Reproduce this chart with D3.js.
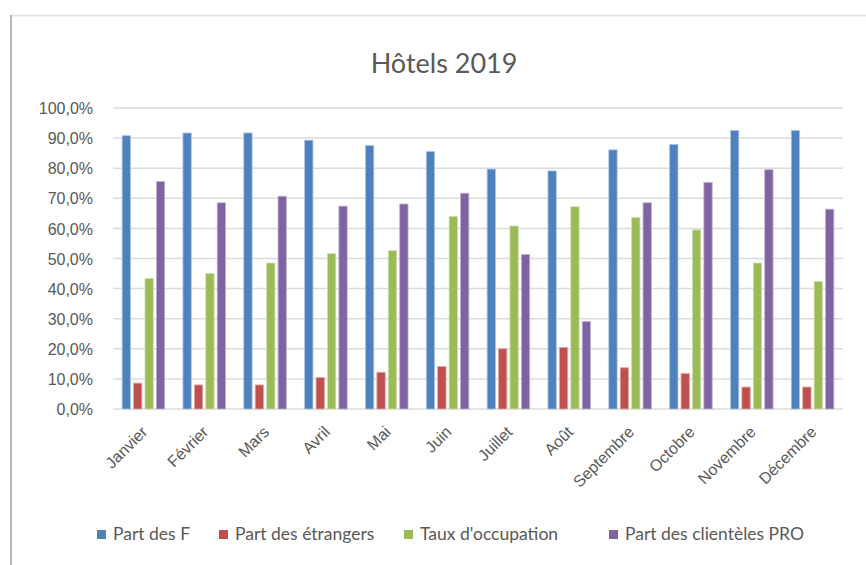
<!DOCTYPE html>
<html>
<head>
<meta charset="utf-8">
<script src="https://cdn.jsdelivr.net/npm/d3@7"></script>
<style>
  body { margin: 0; background: #fff; }
  svg { display: block; font-family: Lato, "Open Sans", sans-serif; }
</style>
</head>
<body>
<svg id="chart" width="866" height="565"></svg>
<script>
var months = ["Janvier", "Février", "Mars", "Avril", "Mai", "Juin", "Juillet", "Août", "Septembre", "Octobre", "Novembre", "Décembre"];
var seriesNames = ["Part des F", "Part des étrangers", "Taux d'occupation", "Part des clientèles PRO"];
var partF = [90.8, 91.7, 91.7, 89.3, 87.5, 85.5, 79.7, 79.1, 86.1, 87.9, 92.5, 92.5];
var partEtrangers = [8.6, 8.0, 8.0, 10.5, 12.2, 14.1, 20.0, 20.4, 13.7, 11.8, 7.3, 7.3];
var tauxOccupation = [43.4, 45.0, 48.5, 51.6, 52.6, 64.0, 60.8, 67.2, 63.6, 59.5, 48.5, 42.4];
var partPro = [75.6, 68.5, 70.7, 67.4, 68.1, 71.7, 51.3, 29.1, 68.5, 75.3, 79.5, 66.4];
var yTicks = [0, 10, 20, 30, 40, 50, 60, 70, 80, 90, 100];
var colors = ["#4f81bd", "#c0504d", "#9bbb59", "#8064a2"];
var strokes = ["#a9c4e8", "#e3a9a7", "#cfe0ad", "#c1b1d6"];

var svg = d3.select("#chart");
var margin = { top: 108, left: 113, right: 23, bottom: 156 };
var width = 866 - margin.left - margin.right,
  height = 565 - margin.top - margin.bottom;

// card frame
svg.append("line").attr("x1", 11).attr("x2", 866).attr("y1", 15.5).attr("y2", 15.5)
  .attr("stroke", "#e6e6e6").attr("stroke-width", 2);
svg.append("line").attr("x1", 11).attr("x2", 11).attr("y1", 15).attr("y2", 565)
  .attr("stroke", "#b8b8b8").attr("stroke-width", 2);

svg.append("text")
  .attr("x", 444).attr("y", 73)
  .attr("text-anchor", "middle")
  .attr("fill", "#595959")
  .style("font-size", "27px")
  .text("Hôtels 2019");

var g = svg.append("g").attr("transform", "translate(" + margin.left + "," + margin.top + ")");

var x0 = d3.scaleBand().domain(months).range([0, width]).paddingInner(0.3).paddingOuter(0.15);
var x1 = d3.scaleBand().domain(d3.range(4)).range([0, x0.bandwidth()]).paddingInner(0.27);
var y = d3.scaleLinear().domain([0, 100]).range([height, 0]);

var fmt = function(d) { return d3.format(".1f")(d).replace(".", ",") + "%"; };

// gridlines
g.append("g")
  .selectAll("line")
  .data(yTicks)
  .enter()
  .append("line")
  .attr("x1", 0).attr("x2", width)
  .attr("y1", function(d) { return y(d); })
  .attr("y2", function(d) { return y(d); })
  .attr("stroke", "#dcdcdc")
  .attr("stroke-width", 1.5);

var yAxis = g.append("g")
  .call(d3.axisLeft(y).tickValues(yTicks).tickFormat(fmt).tickSize(0).tickPadding(20));
yAxis.select(".domain").remove();
yAxis.selectAll("text").attr("fill", "#595959").style("font-size", "16px").attr("dy", "0.35em");

var allSeries = [partF, partEtrangers, tauxOccupation, partPro];

var groups = g.append("g")
  .selectAll("g")
  .data(months)
  .enter()
  .append("g")
  .attr("transform", function(d) { return "translate(" + x0(d) + ",0)"; });

groups.selectAll("rect")
  .data(function(m, i) { return allSeries.map(function(s, k) { return { k: k, v: s[i] }; }); })
  .enter()
  .append("rect")
  .attr("x", function(d) { return x1(d.k); })
  .attr("width", x1.bandwidth())
  .attr("y", function(d) { return y(d.v); })
  .attr("height", function(d) { return height - y(d.v); })
  .attr("fill", function(d) { return colors[d.k]; })
  .attr("stroke", function(d) { return strokes[d.k]; })
  .attr("stroke-width", 0.8);

var xAxis = g.append("g")
  .attr("transform", "translate(0," + height + ")")
  .call(d3.axisBottom(x0).tickSize(0).tickPadding(0));
xAxis.select(".domain").remove();
xAxis.selectAll("text")
  .attr("fill", "#595959")
  .style("font-size", "16px")
  .attr("text-anchor", "end")
  .attr("dy", "0")
  .attr("transform", "translate(5,24) rotate(-45)");

// legend
var legendX = [97, 219, 404, 609];
var legend = svg.append("g")
  .selectAll("g")
  .data(seriesNames)
  .enter()
  .append("g")
  .attr("transform", function(d, i) { return "translate(" + legendX[i] + ",530)"; });
legend.append("rect")
  .attr("width", 9).attr("height", 9)
  .attr("fill", function(d, i) { return colors[i]; });
legend.append("text")
  .attr("x", 16).attr("y", 10)
  .attr("fill", "#595959")
  .style("font-size", "17.5px")
  .text(function(d) { return d; });
</script>
</body>
</html>
